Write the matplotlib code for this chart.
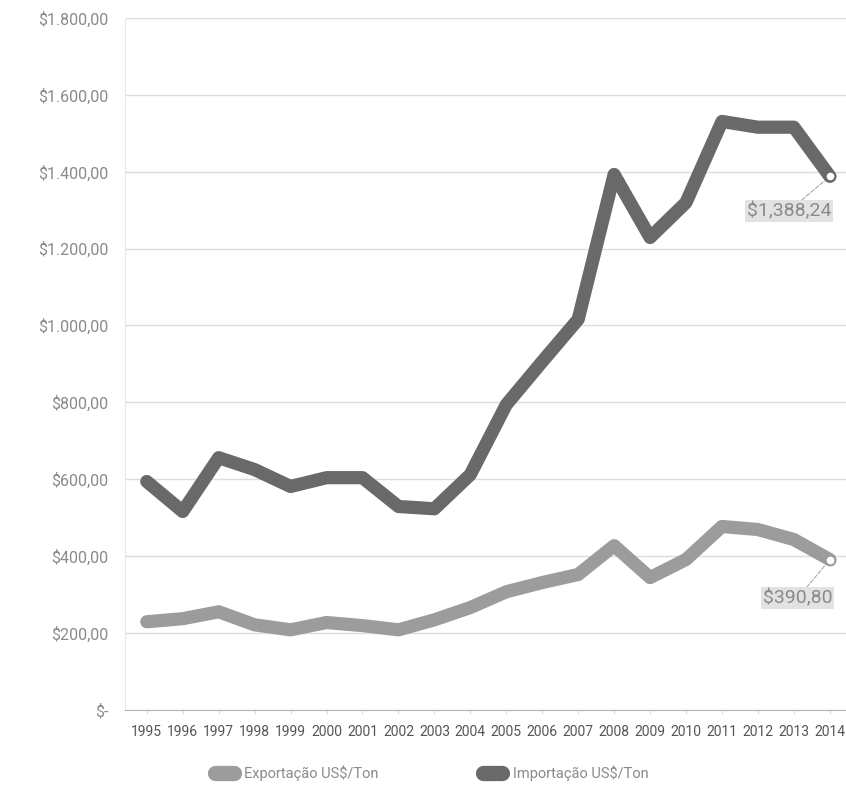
import matplotlib
matplotlib.use('Agg')
import matplotlib.pyplot as plt
from matplotlib.ticker import FuncFormatter
from matplotlib.lines import Line2D

# Data
years = list(range(1995, 2015))
importacao = [594, 516, 656, 625, 581, 604, 604, 529, 523, 612,
              794, 906, 1016, 1393, 1229, 1320, 1531, 1516, 1516, 1388.24]
exportacao = [229, 237, 255, 221, 208, 227, 219, 208, 234, 266,
              307, 331, 352, 427, 344, 391, 477, 469, 443, 390.80]
yticks = [0, 200, 400, 600, 800, 1000, 1200, 1400, 1600, 1800]
labelExp = 'Exportação US$/Ton'
labelImp = 'Importação US$/Ton'

colorImp = '#696969'
colorExp = '#9c9c9c'
textColor = '#8a8a8a'
fonts = ['Roboto', 'DejaVu Sans']


def money(v, pos=None):
    if v == 0:
        return '$-'
    s = '{:,.2f}'.format(v)
    s = s.replace(',', 'X').replace('.', ',').replace('X', '.')
    return '$' + s


def main():
    fig = plt.figure(figsize=(8.46, 7.86), dpi=100)
    ax = fig.add_axes([0.148, 0.097, 0.852, 0.880])

    ax.plot(years, exportacao, color=colorExp, lw=9.5, solid_capstyle='round',
            solid_joinstyle='round', zorder=3)
    ax.plot(years, importacao, color=colorImp, lw=9.5, solid_capstyle='round',
            solid_joinstyle='round', zorder=3)

    # end point markers
    ax.plot(years[-1], importacao[-1], 'o', ms=7, mfc='white', mec=colorImp,
            mew=1.5, zorder=4)
    ax.plot(years[-1], exportacao[-1], 'o', ms=7, mfc='white', mec=colorExp,
            mew=1.5, zorder=4)

    ax.set_xlim(1994.4, 2014.45)
    ax.set_ylim(0, 1800)
    ax.set_yticks(yticks)
    ax.yaxis.set_major_formatter(FuncFormatter(money))
    ax.set_xticks(years)
    ax.set_xticklabels([str(y) for y in years], family=fonts, fontsize=10)
    for t in ax.get_yticklabels():
        t.set_family(fonts)
    ax.tick_params(axis='y', length=0, pad=12, labelsize=11.5,
                   labelcolor=textColor)
    ax.tick_params(axis='x', length=3, color='#dddddd', pad=8,
                   labelcolor='#555555')

    ax.grid(axis='y', color='#dcdcdc', lw=1)
    ax.set_axisbelow(True)
    for side in ['top', 'right']:
        ax.spines[side].set_visible(False)
    ax.spines['left'].set_color('#e6e6ee')
    ax.spines['bottom'].set_color('#b5b5b5')

    # value labels
    box = dict(boxstyle='square,pad=0.1', fc='#e2e2e2', ec='none')
    arrow = dict(arrowstyle='-', ls='--', color='#aaaaaa', lw=0.8,
                 shrinkA=0, shrinkB=5)
    ax.annotate(money(importacao[-1]).replace('.', ','),
                xy=(years[-1], importacao[-1]), xytext=(2012.86, 1298),
                ha='center', va='center', fontsize=14, color='#8a8a8a',
                family=fonts, bbox=box, arrowprops=arrow)
    ax.annotate(money(exportacao[-1]),
                xy=(years[-1], exportacao[-1]), xytext=(2013.1, 290),
                ha='center', va='center', fontsize=14, color='#8a8a8a',
                family=fonts, bbox=box, arrowprops=arrow)

    handles = [Line2D([0], [0], color=colorExp, lw=11, solid_capstyle='round'),
               Line2D([0], [0], color=colorImp, lw=11, solid_capstyle='round')]
    leg = fig.legend(handles, [labelExp, labelImp], loc='center',
                     bbox_to_anchor=(0.51, 0.016), ncol=2, frameon=False,
                     prop={'family': fonts, 'size': 10.5},
                     handlelength=1.3, columnspacing=7.2, handletextpad=0.7)
    for t in leg.get_texts():
        t.set_color(textColor)

    fig.savefig('out.png', dpi=100, facecolor='white')
    return 1


if __name__ == '__main__':
    main()
